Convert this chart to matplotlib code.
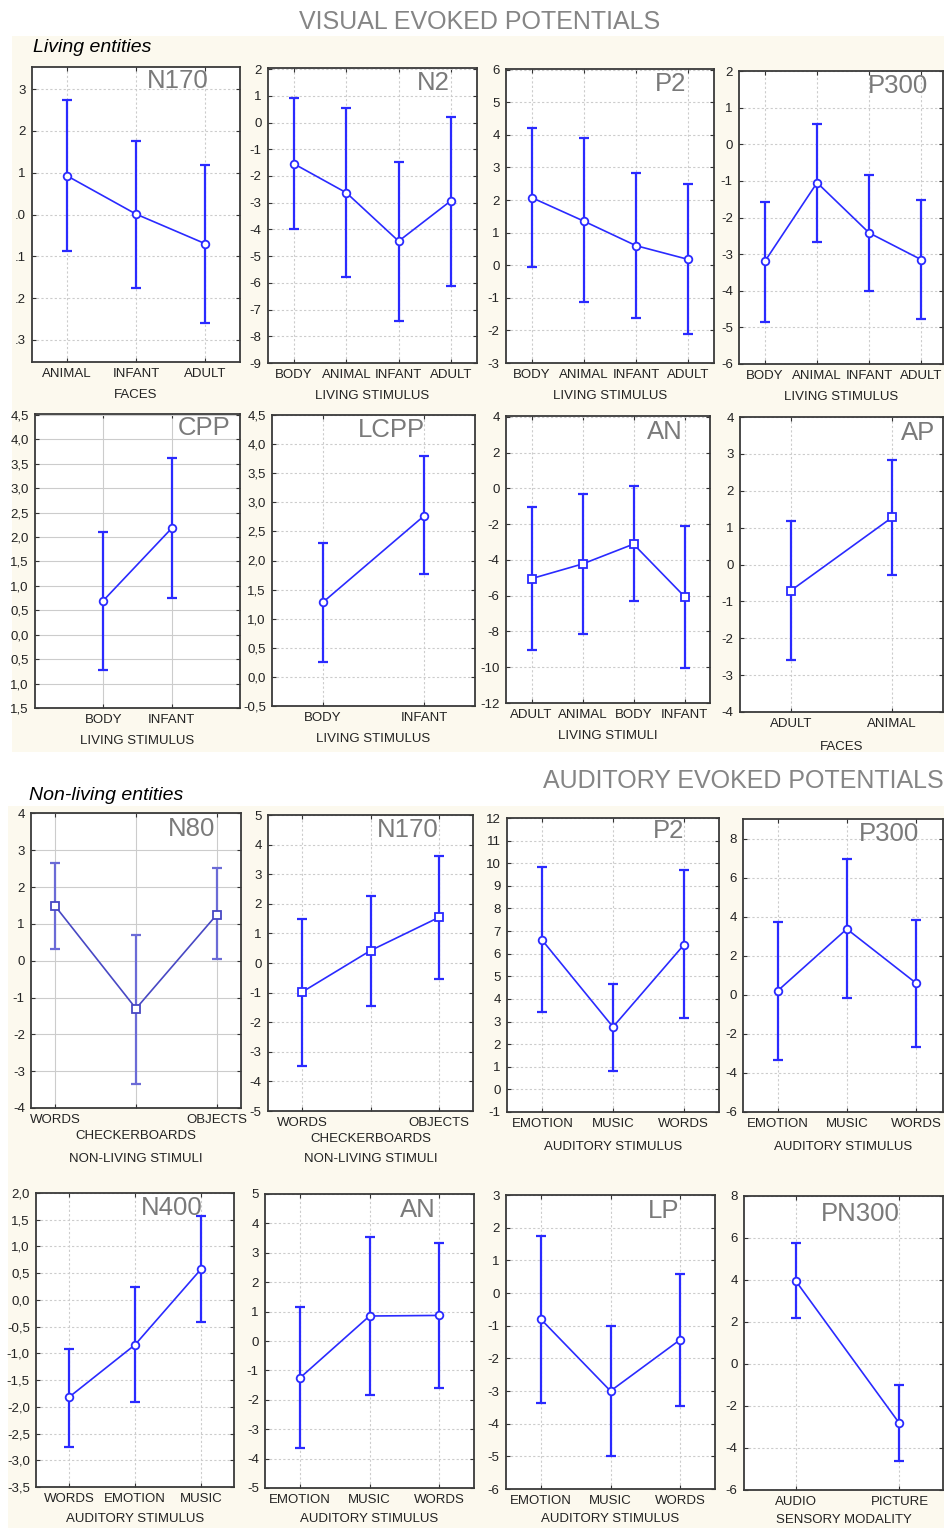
import matplotlib
matplotlib.use('Agg')
import matplotlib.pyplot as plt
from matplotlib.patches import Rectangle
import numpy as np

plt.rcParams['font.family'] = ['Liberation Sans', 'DejaVu Sans']
plt.rcParams['axes.unicode_minus'] = False

W, H = 944, 1528

# ------------------------- DATA -------------------------
# Visual evoked potentials - living entities
v_n170_cats = ['ANIMAL', 'INFANT', 'ADULT']
v_n170_mean = [0.93, 0.01, -0.70]
v_n170_hi = [2.74, 1.76, 1.18]
v_n170_lo = [-0.87, -1.75, -2.60]

v_n2_cats = ['BODY', 'ANIMAL', 'INFANT', 'ADULT']
v_n2_mean = [-1.55, -2.63, -4.44, -2.93]
v_n2_hi = [0.91, 0.56, -1.48, 0.21]
v_n2_lo = [-3.99, -5.78, -7.43, -6.10]

v_p2_cats = ['BODY', 'ANIMAL', 'INFANT', 'ADULT']
v_p2_mean = [2.07, 1.35, 0.60, 0.18]
v_p2_hi = [4.22, 3.89, 2.82, 2.48]
v_p2_lo = [-0.05, -1.14, -1.63, -2.11]

v_p300_cats = ['BODY', 'ANIMAL', 'INFANT', 'ADULT']
v_p300_mean = [-3.19, -1.05, -2.42, -3.15]
v_p300_hi = [-1.57, 0.56, -0.83, -1.53]
v_p300_lo = [-4.84, -2.67, -4.00, -4.76]

cpp_cats = ['BODY', 'INFANT']
cpp_mean = [0.70, 2.18]
cpp_hi = [2.11, 3.62]
cpp_lo = [-0.73, 0.76]

lcpp_cats = ['BODY', 'INFANT']
lcpp_mean = [1.28, 2.77]
lcpp_hi = [2.30, 3.79]
lcpp_lo = [0.25, 1.76]

v_an_cats = ['ADULT', 'ANIMAL', 'BODY', 'INFANT']
v_an_mean = [-5.05, -4.23, -3.12, -6.05]
v_an_hi = [-1.04, -0.33, 0.11, -2.08]
v_an_lo = [-9.04, -8.16, -6.29, -10.02]

ap_cats = ['ADULT', 'ANIMAL']
ap_mean = [-0.71, 1.28]
ap_hi = [1.17, 2.84]
ap_lo = [-2.58, -0.29]

# Visual - non-living entities
n80_cats = ['WORDS', 'CHECKERBOARDS', 'OBJECTS']
n80_mean = [1.48, -1.30, 1.25]
n80_hi = [2.64, 0.70, 2.51]
n80_lo = [0.33, -3.34, 0.04]

nl_n170_cats = ['WORDS', 'CHECKERBOARDS', 'OBJECTS']
nl_n170_mean = [-0.98, 0.42, 1.54]
nl_n170_hi = [1.50, 2.27, 3.63]
nl_n170_lo = [-3.49, -1.44, -0.55]

# Auditory evoked potentials
a_p2_cats = ['EMOTION', 'MUSIC', 'WORDS']
a_p2_mean = [6.59, 2.76, 6.38]
a_p2_hi = [9.85, 4.68, 9.69]
a_p2_lo = [3.44, 0.83, 3.15]

a_p300_cats = ['EMOTION', 'MUSIC', 'WORDS']
a_p300_mean = [0.20, 3.37, 0.60]
a_p300_hi = [3.71, 6.93, 3.85]
a_p300_lo = [-3.34, -0.14, -2.67]

n400_cats = ['WORDS', 'EMOTION', 'MUSIC']
n400_mean = [-1.82, -0.84, 0.575]
n400_hi = [-0.92, 0.24, 1.57]
n400_lo = [-2.76, -1.91, -0.41]

a_an_cats = ['EMOTION', 'MUSIC', 'WORDS']
a_an_mean = [-1.26, 0.85, 0.87]
a_an_hi = [1.17, 3.55, 3.34]
a_an_lo = [-3.65, -1.85, -1.59]

lp_cats = ['EMOTION', 'MUSIC', 'WORDS']
lp_mean = [-0.80, -3.00, -1.43]
lp_hi = [1.76, -1.01, 0.58]
lp_lo = [-3.37, -4.98, -3.46]

pn300_cats = ['AUDIO', 'PICTURE']
pn300_mean = [3.95, -2.83]
pn300_hi = [5.78, -1.02]
pn300_lo = [2.17, -4.63]

# tick values / labels
v_n170_yticks = [3, 2, 1, 0, -1, -2, -3]
v_n170_ylabels = ['3', '2', '1', '.0', '.1', '.2', '.3']
cpp_yticks = [4.5, 4.0, 3.5, 3.0, 2.5, 2.0, 1.5, 1.0, 0.5, 0.0, -0.5, -1.0, -1.5]
cpp_ylabels = ['4,5', '4,0', '3,5', '3,0', '2,5', '2,0', '1,5', '1,0', '0,5', '0,0', '0,5', '1,0', '1,5']
lcpp_yticks = [4.5, 4.0, 3.5, 3.0, 2.5, 2.0, 1.5, 1.0, 0.5, 0.0, -0.5]
lcpp_ylabels = ['4,5', '4,0', '3,5', '3,0', '2,5', '2,0', '1,5', '1,0', '0,5', '0,0', '-0,5']
n400_yticks = [2.0, 1.5, 1.0, 0.5, 0.0, -0.5, -1.0, -1.5, -2.0, -2.5, -3.0, -3.5]
n400_ylabels = ['2,0', '1,5', '1,0', '0,5', '0,0', '-0,5', '-1,0', '-1,5', '-2,0', '-2,5', '-3,0', '-3,5']

# ------------------------- STYLE -------------------------
BLUE = '#2a2aff'
CREAM = '#fcf9ee'
GRAY_T = '#7a7a7a'

fig = plt.figure(figsize=(W / 100, H / 100), dpi=100)
fig.patch.set_facecolor('white')

for (x0, y0, x1, y1) in [(12, 36, 944, 752), (8, 806, 944, 1528)]:
    fig.patches.append(Rectangle((x0 / W, 1 - y1 / H), (x1 - x0) / W, (y1 - y0) / H,
                                 transform=fig.transFigure, facecolor=CREAM,
                                 edgecolor='none', zorder=-5))


def panel(box, cats, mean, hi, lo, name, name_xy, xlabel, ylim, yticks,
          ylabels=None, xlim=None, marker='o', grid_ls=(0, (2, 2)),
          line_c=BLUE, err_c=BLUE, xlabelpad=6.5, second_line_mid=False):
    x0, y0, x1, y1 = box
    ax = fig.add_axes([x0 / W, 1 - y1 / H, (x1 - x0) / W, (y1 - y0) / H])
    ax.set_facecolor('white')
    xs = np.arange(len(cats))
    mean = np.array(mean)
    yerr = [mean - np.array(lo), np.array(hi) - mean]
    ax.errorbar(xs, mean, yerr=yerr, fmt='none', ecolor=err_c, elinewidth=1.6,
                capsize=3.5, capthick=1.6, zorder=3)
    ax.plot(xs, mean, color=line_c, lw=1.2, marker=marker, ms=5.5 if marker == 'o' else 6,
            mfc='white', mec=line_c, mew=1.3, zorder=4)
    ax.set_xlim(xlim if xlim else (-0.5, len(cats) - 0.5))
    ax.set_ylim(*ylim)
    ax.set_xticks(xs)
    labels = list(cats)
    if second_line_mid:
        mid = labels[1]
        labels[1] = ''
        ax.annotate(mid, xy=(1, 0), xycoords=('data', 'axes fraction'),
                    xytext=(0, -20), textcoords='offset points', ha='center', va='center',
                    fontsize=9.5, color='#222222', annotation_clip=False)
    ax.set_xticklabels(labels, fontsize=9.5, color='#222222')
    ax.set_yticks(yticks)
    if ylabels is None:
        ylabels = [('%g' % t) for t in yticks]
    ax.set_yticklabels(ylabels, fontsize=9.5, color='#222222')
    ax.tick_params(axis='both', direction='in', length=3, width=0.8, pad=4.5,
                   top=True, right=True, colors='#333333', labelcolor='#222222')
    ax.grid(True, color='#cccccc', lw=0.8, ls=grid_ls)
    ax.set_axisbelow(True)
    for s in ax.spines.values():
        s.set_color('#3a3a3a')
        s.set_linewidth(1.3)
    ax.set_xlabel(xlabel, fontsize=9.5, color='#222222', labelpad=xlabelpad)
    fig.text(name_xy[0] / W, 1 - name_xy[1] / H, name, fontsize=18.5,
             color=GRAY_T, ha='center', va='center')
    return ax


# Row 1
panel((32, 67, 240, 362), v_n170_cats, v_n170_mean, v_n170_hi, v_n170_lo, 'N170', (178, 81),
      'FACES', (-3.53, 3.53), v_n170_yticks, v_n170_ylabels)
panel((268, 68, 477, 363), v_n2_cats, v_n2_mean, v_n2_hi, v_n2_lo, 'N2', (433, 83),
      'LIVING STIMULUS', (-9, 2.04), list(range(-9, 3)))
panel((506, 69, 714, 363), v_p2_cats, v_p2_mean, v_p2_hi, v_p2_lo, 'P2', (671, 84),
      'LIVING STIMULUS', (-3, 6.02), list(range(-3, 7)))
panel((739, 71, 943, 364), v_p300_cats, v_p300_mean, v_p300_hi, v_p300_lo, 'P300', (898, 86),
      'LIVING STIMULUS', (-6, 2), list(range(-6, 3)), xlim=(-0.5, 3.42))

# Row 2
panel((35, 414, 240, 708), cpp_cats, cpp_mean, cpp_hi, cpp_lo, 'CPP', (204, 428),
      'LIVING STIMULUS', (-1.5, 4.52), cpp_yticks, cpp_ylabels, xlim=(-1, 2), grid_ls='-')
panel((272, 415, 475, 706), lcpp_cats, lcpp_mean, lcpp_hi, lcpp_lo, 'LCPP', (391, 430),
      'LIVING STIMULUS', (-0.5, 4.5), lcpp_yticks, lcpp_ylabels)
panel((506, 416, 710, 703), v_an_cats, v_an_mean, v_an_hi, v_an_lo, 'AN', (665, 432),
      'LIVING STIMULI', (-12, 4.04), list(range(-12, 5, 2)), marker='s')
panel((740, 417, 943, 712), ap_cats, ap_mean, ap_hi, ap_lo, 'AP', (918, 433),
      'FACES', (-4, 4), list(range(-4, 5)), marker='s', xlabelpad=8)

# Row 3
panel((31, 813, 241, 1108), n80_cats, n80_mean, n80_hi, n80_lo, 'N80', (192, 829),
      'NON-LIVING STIMULI', (-4, 4.01), list(range(-4, 5)), xlim=(-0.3, 2.3),
      marker='s', grid_ls='-', line_c='#4848c4', err_c='#6b6bd6', xlabelpad=19,
      second_line_mid=True)
panel((268, 815, 473, 1111), nl_n170_cats, nl_n170_mean, nl_n170_hi, nl_n170_lo, 'N170', (408, 830),
      'NON-LIVING STIMULI', (-5, 5), list(range(-5, 6)), marker='s', xlabelpad=17,
      second_line_mid=True)
panel((507, 818, 719, 1112), a_p2_cats, a_p2_mean, a_p2_hi, a_p2_lo, 'P2', (669, 831),
      'AUDITORY STIMULUS', (-1, 12), list(range(-1, 13)), xlabelpad=8)
panel((743, 819, 943, 1112), a_p300_cats, a_p300_mean, a_p300_hi, a_p300_lo, 'P300', (889, 834),
      'AUDITORY STIMULUS', (-6, 9), list(range(-6, 9, 2)), xlim=(-0.5, 2.39), xlabelpad=8)

# Row 4
panel((36, 1193, 234, 1487), n400_cats, n400_mean, n400_hi, n400_lo, 'N400', (172, 1208),
      'AUDITORY STIMULUS', (-3.5, 2.0), n400_yticks, n400_ylabels, xlabelpad=5.5)
panel((265, 1194, 474, 1488), a_an_cats, a_an_mean, a_an_hi, a_an_lo, 'AN', (418, 1210),
      'AUDITORY STIMULUS', (-5, 5), list(range(-5, 6)), xlabelpad=5)
panel((506, 1195, 715, 1489), lp_cats, lp_mean, lp_hi, lp_lo, 'LP', (664, 1211),
      'AUDITORY STIMULUS', (-6, 3), list(range(-6, 4)), xlabelpad=4.5)
panel((744, 1196, 943, 1490), pn300_cats, pn300_mean, pn300_hi, pn300_lo, 'PN300', (860, 1214),
      'SENSORY MODALITY', (-6, 8), list(range(-6, 9, 2)), xlim=(-0.5, 1.42), xlabelpad=4)

# Headings
fig.text(480 / W, 1 - 22 / H, 'VISUAL EVOKED POTENTIALS', fontsize=18, color='#858585',
         ha='center', va='center')
fig.text(944 / W, 1 - 781 / H, 'AUDITORY EVOKED POTENTIALS', fontsize=18, color='#858585',
         ha='right', va='center')
fig.text(33 / W, 1 - 47 / H, 'Living entities', fontsize=14, style='italic', color='black',
         ha='left', va='center')
fig.text(29 / W, 1 - 795 / H, 'Non-living entities', fontsize=14, style='italic', color='black',
         ha='left', va='center')

fig.savefig('out.png', dpi=100, facecolor='white')
